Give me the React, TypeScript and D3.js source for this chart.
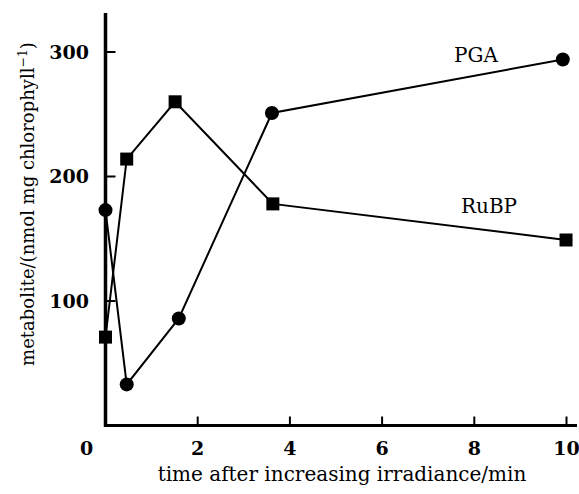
import React from "react";
import * as d3 from "d3";

const pgaTimes = [0, 0.46, 1.59, 3.61, 9.92];
const pgaValues = [173, 33, 86, 251, 294];
const rubpTimes = [0, 0.46, 1.51, 3.63, 9.99];
const rubpValues = [71, 214, 260, 178, 149];
const xTicks = [0, 2, 4, 6, 8, 10];
const yTicks = [100, 200, 300];
const seriesLabels = ["PGA", "RuBP"];

const W = 579;
const H = 494;

export default function App() {
  const x = d3.scaleLinear().domain([0, 10]).range([105.5, 566.5]);
  const y = d3.scaleLinear().domain([0, 300]).range([425.5, 52]);
  const line = d3
    .line<[number, number]>()
    .x((d) => x(d[0]))
    .y((d) => y(d[1]));
  const pga: [number, number][] = pgaTimes.map((t, i) => [t, pgaValues[i]]);
  const rubp: [number, number][] = rubpTimes.map((t, i) => [t, rubpValues[i]]);
  const serif = "'DejaVu Serif', serif";
  const x0 = x(0);
  const y0 = y(0);
  const sq = 13;
  return (
    <div style={{ position: "absolute", left: 0, top: 0 }}>
      <svg width={W} height={H} style={{ display: "block", background: "#fff" }}>
        {/* axes */}
        <line x1={x0} y1={13} x2={x0} y2={y0 + 1.5} stroke="#000" strokeWidth={3.5} />
        <line x1={x0 - 1.5} y1={y0} x2={577} y2={y0} stroke="#000" strokeWidth={3} />
        {yTicks.map((t) => (
          <g key={"y" + t}>
            <line x1={x0} x2={x0 + 10} y1={y(t)} y2={y(t)} stroke="#000" strokeWidth={2} />
            <text
              x={89}
              y={y(t)}
              dy="0.36em"
              textAnchor="end"
              fontFamily={serif}
              fontWeight="bold"
              fontSize={19}
            >
              {t}
            </text>
          </g>
        ))}
        {xTicks.map((t) => (
          <g key={"x" + t}>
            {t > 0 && (
              <line x1={x(t)} x2={x(t)} y1={y0} y2={y0 - 9} stroke="#000" strokeWidth={2} />
            )}
            <text
              x={t === 0 ? x(t) - 19 : x(t)}
              y={448}
              dy="0.36em"
              textAnchor="middle"
              fontFamily={serif}
              fontWeight="bold"
              fontSize={19}
            >
              {t}
            </text>
          </g>
        ))}
        <text x={342} y={481} textAnchor="middle" fontFamily={serif} fontSize={20}>
          time after increasing irradiance/min
        </text>
        <text
          transform={`translate(34,204) rotate(-90)`}
          textAnchor="middle"
          fontFamily={serif}
          fontSize={18}
        >
          metabolite/(nmol mg chlorophyll
          <tspan fontSize={12.5} dy={-7}>−1</tspan>
          <tspan dy={7}>)</tspan>
        </text>
        {/* series */}
        <path d={line(pga) || ""} fill="none" stroke="#000" strokeWidth={2} />
        <path d={line(rubp) || ""} fill="none" stroke="#000" strokeWidth={2} />
        {pga.map((d, i) => (
          <circle key={"c" + i} cx={x(d[0])} cy={y(d[1])} r={7} fill="#000" />
        ))}
        {rubp.map((d, i) => (
          <rect
            key={"s" + i}
            x={x(d[0]) - sq / 2}
            y={y(d[1]) - sq / 2}
            width={sq}
            height={sq}
            fill="#000"
          />
        ))}
        <text x={476} y={62} textAnchor="middle" fontFamily={serif} fontSize={20}>
          {seriesLabels[0]}
        </text>
        <text x={489} y={213} textAnchor="middle" fontFamily={serif} fontSize={20}>
          {seriesLabels[1]}
        </text>
      </svg>
    </div>
  );
}
